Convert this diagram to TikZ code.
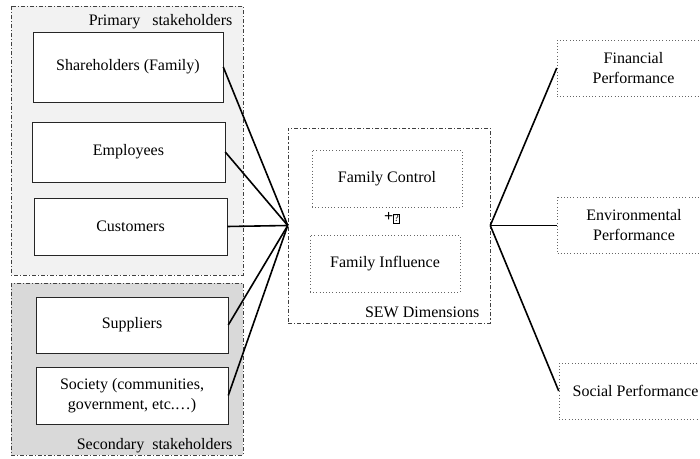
\documentclass[tikz,border=0pt]{standalone}
\usepackage{fontspec}
\setmainfont{Liberation Serif}
\usetikzlibrary{positioning}

\tikzset{
  groupbox/.style={draw=black!75, dash pattern=on 3pt off 1.5pt on 0.8pt off 1.5pt},
  stakebox/.style={draw=black!85, fill=white, align=center, inner sep=0pt, minimum width=144pt},
  dimbox/.style={draw=black!60, dotted, align=center, inner sep=0pt, minimum width=112.5pt, minimum height=42.75pt},
  perfbox/.style={draw=black!60, dotted, align=center, inner sep=0pt, minimum width=114.75pt, minimum height=42pt},
  link/.style={line width=1.2pt, black},
}

\begin{document}
\begin{tikzpicture}[x=0.75pt, y=-0.75pt, font=\fontsize{12}{15}\selectfont]
  \useasboundingbox (0,0) rectangle (700,459);
  \clip (0,0) rectangle (700,459);
  % stakeholder groups
  \draw[groupbox, fill=black!5] (11,6) rectangle (243,275);
  \draw[groupbox, fill=black!15] (11,283) rectangle (243,455);
  \node[anchor=east] (primary) at (237,22) {Primary\enspace\ stakeholders};
  \node[anchor=east] (secondary) at (237,446) {Secondary\enspace stakeholders};
  % stakeholders
  \node[stakebox, minimum width=142.5pt, minimum height=52.5pt] (share) at (128,67) {Shareholders (Family)};
  \node[stakebox, minimum width=144.75pt, minimum height=45pt] (empl) at (128.5,152) {Employees};
  \node[stakebox, minimum width=144.75pt, minimum height=42.75pt] (cust) at (130.5,226.5) {Customers};
  \node[stakebox, minimum width=144pt, minimum height=42pt] (supp) at (132,325) {Suppliers};
  \node[stakebox, minimum width=144pt, minimum height=42.75pt] (soc) at (132,395.5) {Society (communities,\\government, etc.…)};
  % SEW dimensions
  \node[groupbox, minimum width=151.5pt, minimum height=146.25pt] (sew) at (389,225.5) {};
  \node[anchor=east] (sewlabel) at (484,312) {SEW Dimensions};
  \node[dimbox] (fc) at (387,178.5) {Family Control};
  \node (plus) at (392,218) {\textbf{+}{\fboxsep=0.5pt\fboxrule=0.4pt\fbox{\fontsize{7.5}{7.5}\selectfont ?}}};
  \node[dimbox] (fi) at (385,263.5) {Family Influence};
  % performance
  \node[perfbox] (fin) at (633.5,68) {Financial\\Performance};
  \node[perfbox] (envp) at (634,225.5) {Environmental\\Performance};
  \node[perfbox] (socp) at (635.5,391) {Social Performance};
  % links
  \foreach \s in {share,empl,cust,supp,soc}
    \draw[link] (\s.east) -- (sew.west);
  \foreach \p in {fin,envp,socp}
    \draw[link] (sew.east) -- (\p.west);
\end{tikzpicture}
\end{document}
